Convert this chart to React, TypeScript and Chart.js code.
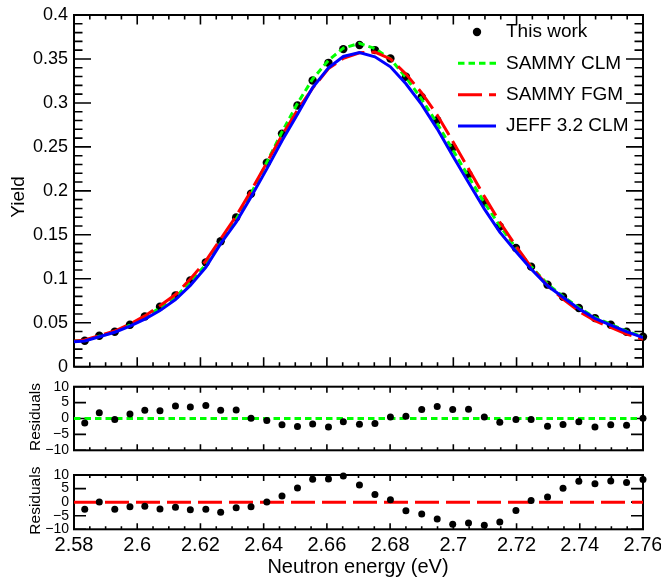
import React, { useEffect, useRef } from "react";
import { Chart, registerables } from "chart.js";

Chart.register(...registerables);

// ---------- data ----------
const energy = [
  2.5834, 2.588, 2.5929, 2.5977, 2.6024, 2.6072, 2.6121, 2.6168, 2.6217, 2.6264,
  2.6313, 2.636, 2.641, 2.6458, 2.6507, 2.6555, 2.6605, 2.6652, 2.6703, 2.6752,
  2.6801, 2.685, 2.69, 2.6949, 2.6998, 2.7048, 2.7098, 2.7147, 2.7198, 2.7246,
  2.7298, 2.7347, 2.7397, 2.7448, 2.7498, 2.7548, 2.76,
];
const yieldData = [
  0.0295, 0.0352, 0.0397, 0.0477, 0.0572, 0.0682, 0.0811, 0.0982, 0.1187, 0.1427,
  0.1697, 0.1967, 0.2321, 0.2651, 0.297, 0.3255, 0.3456, 0.3612, 0.3658, 0.3601,
  0.3506, 0.3297, 0.3069, 0.2803, 0.2492, 0.2187, 0.1871, 0.1594, 0.1351, 0.1138,
  0.0933, 0.0796, 0.0667, 0.0553, 0.0477, 0.0397, 0.034,
];
const curveEnergy = [
  2.58, 2.5834, 2.588, 2.5929, 2.5977, 2.6024, 2.6072, 2.6121, 2.6168, 2.6217, 2.6264,
  2.6313, 2.636, 2.641, 2.6458, 2.6507, 2.6555, 2.6605, 2.6652, 2.6703, 2.6752,
  2.6801, 2.685, 2.69, 2.6949, 2.6998, 2.7048, 2.7098, 2.7147, 2.7198, 2.7246,
  2.7298, 2.7347, 2.7397, 2.7448, 2.7498, 2.7548, 2.76,
];
const sammyClm = [
  0.0287, 0.0299, 0.0346, 0.0398, 0.0472, 0.0561, 0.0671, 0.0791, 0.0962, 0.1162, 0.1409,
  0.1677, 0.1966, 0.2326, 0.267, 0.2995, 0.3272, 0.3485, 0.3623, 0.3678, 0.3618,
  0.3501, 0.329, 0.3041, 0.2767, 0.2467, 0.2163, 0.1867, 0.1603, 0.1353, 0.114,
  0.094, 0.08, 0.0672, 0.056, 0.0483, 0.0405, 0.034,
];
const sammyFgm = [
  0.029, 0.0303, 0.0352, 0.0406, 0.0484, 0.0578, 0.0694, 0.0821, 0.0998, 0.1203, 0.1452,
  0.1713, 0.2, 0.232, 0.263, 0.2919, 0.3169, 0.339, 0.3508, 0.357, 0.3578,
  0.35, 0.333, 0.3113, 0.2862, 0.2565, 0.2252, 0.1937, 0.1646, 0.1372, 0.1134,
  0.0923, 0.077, 0.0631, 0.0524, 0.0446, 0.0371, 0.0312,
];
const jeff32Clm = [
  0.0284, 0.0292, 0.034, 0.0392, 0.0462, 0.0542, 0.0638, 0.0764, 0.0925, 0.113, 0.14,
  0.1645, 0.193, 0.225, 0.257, 0.287, 0.3175, 0.34, 0.3528, 0.3572, 0.3525,
  0.3411, 0.3218, 0.298, 0.2705, 0.24, 0.2095, 0.1795, 0.153, 0.131, 0.111,
  0.092, 0.079, 0.066, 0.055, 0.0472, 0.0398, 0.0332,
];
const residualsClm = [
  -1.4, 1.8, -0.3, 1.4, 2.6, 2.4, 3.9, 3.6, 4.1, 2.6,
  2.7, 0.1, -0.6, -2.0, -2.5, -1.7, -2.7, -1.05, -1.8, -1.6,
  0.5, 0.7, 2.8, 3.8, 2.8, 2.9, 0.5, -1.2, -0.3, -0.3,
  -2.4, -1.9, -1.0, -2.7, -2.0, -2.1, 0.1,
];
const residualsFgm = [
  -2.6, 0.1, -2.6, -1.7, -1.5, -2.5, -1.9, -2.8, -2.6, -3.7,
  -2.1, -1.7, 0.1, 2.3, 5.2, 8.4, 8.5, 9.6, 6.3, 2.8,
  0.9, -3.2, -4.4, -6.2, -8.1, -7.7, -8.5, -7.3, -3.1, 0.6,
  1.9, 5.1, 7.7, 6.8, 7.8, 7.2, 8.3,
];
const xRange = [2.58, 2.76];
const xTickValues = [2.58, 2.6, 2.62, 2.64, 2.66, 2.68, 2.7, 2.72, 2.74, 2.76];
const xTickLabels = ["2.58", "2.6", "2.62", "2.64", "2.66", "2.68", "2.7", "2.72", "2.74", "2.76"];
const yieldTickValues = [0, 0.05, 0.1, 0.15, 0.2, 0.25, 0.3, 0.35, 0.4];
const yieldTickLabels = ["0", "0.05", "0.1", "0.15", "0.2", "0.25", "0.3", "0.35", "0.4"];
const residualTickValues = [-10, -5, 0, 5, 10];
const residualTickLabels = ["\u221210", "\u22125", "0", "5", "10"];
const seriesNames = ["This work", "SAMMY CLM", "SAMMY FGM", "JEFF 3.2 CLM"];
const xTitle = "Neutron energy (eV)";
const yieldTitle = "Yield";
const residualTitle = "Residuals";

// ---------- style ----------
const FONT = '"Liberation Sans", Arial, Helvetica, sans-serif';
const W = 661;
const H = 580;
const LEFT = 74;
const RIGHT_PAD = 18;
const GREEN = "#00ff00";
const RED = "#ff0000";
const BLUE = "#0000ff";
const GREEN_DASH = [6.5, 4];
const RED_DASH = [24, 7];

type TextItem = { t: string; x: number; y: number; size: number; rot?: boolean };
type Decor = {
  xMinor: number; xPer: number; xMajorLen: number; xMinorLen: number;
  yMin: number; yMax: number; yMinor: number; yPer: number; yMajorLen: number; yMinorLen: number;
  texts: TextItem[];
  legend?: boolean;
  xLabels?: boolean;
};

function decorPlugin(d: Decor) {
  return {
    id: "decor",
    beforeDatasetsDraw(chart: any) {
      const { ctx, chartArea: a } = chart;
      const xs = chart.scales.x;
      const ys = chart.scales.y;
      ctx.save();
      ctx.strokeStyle = "#000";
      ctx.lineWidth = 1.6;
      ctx.beginPath();
      const nx = Math.round((xRange[1] - xRange[0]) / d.xMinor);
      for (let i = 0; i <= nx; i++) {
        const px = xs.getPixelForValue(xRange[0] + i * d.xMinor);
        const len = i % d.xPer === 0 ? d.xMajorLen : d.xMinorLen;
        ctx.moveTo(px, a.bottom);
        ctx.lineTo(px, a.bottom - len);
        ctx.moveTo(px, a.top);
        ctx.lineTo(px, a.top + len);
      }
      const ny = Math.round((d.yMax - d.yMin) / d.yMinor);
      for (let i = 0; i <= ny; i++) {
        const py = ys.getPixelForValue(d.yMin + i * d.yMinor);
        const len = i % d.yPer === 0 ? d.yMajorLen : d.yMinorLen;
        ctx.moveTo(a.left, py);
        ctx.lineTo(a.left + len, py);
        ctx.moveTo(a.right, py);
        ctx.lineTo(a.right - len, py);
      }
      ctx.stroke();
      ctx.lineWidth = 2;
      ctx.strokeRect(a.left, a.top, a.right - a.left, a.bottom - a.top);
      ctx.restore();
    },
    afterDraw(chart: any) {
      const ctx = chart.ctx;
      const a = chart.chartArea;
      ctx.save();
      ctx.fillStyle = "#000";
      ctx.textBaseline = "middle";
      ctx.textAlign = "center";
      if (d.xLabels) {
        const xs = chart.scales.x;
        ctx.font = `20px ${FONT}`;
        xTickValues.forEach((v, i) => {
          ctx.fillText(xTickLabels[i], xs.getPixelForValue(v), a.bottom + 16.5);
        });
      }
      for (const it of d.texts) {
        ctx.font = `${it.size}px ${FONT}`;
        if (it.rot) {
          ctx.save();
          ctx.translate(it.x, it.y);
          ctx.rotate(-Math.PI / 2);
          ctx.fillText(it.t, 0, 0);
          ctx.restore();
        } else {
          ctx.fillText(it.t, it.x, it.y);
        }
      }
      if (d.legend) {
        const rows = [32, 63.3, 94.7, 126];
        const lx0 = 458;
        const lx1 = 496;
        ctx.textAlign = "left";
        ctx.font = `19px ${FONT}`;
        ctx.beginPath();
        ctx.arc(477, rows[0], 4.2, 0, Math.PI * 2);
        ctx.fill();
        const styles = [
          { c: GREEN, dash: GREEN_DASH },
          { c: RED, dash: RED_DASH },
          { c: BLUE, dash: [] as number[] },
        ];
        styles.forEach((s, i) => {
          ctx.save();
          ctx.strokeStyle = s.c;
          ctx.lineWidth = 3;
          ctx.setLineDash(s.dash);
          ctx.beginPath();
          ctx.moveTo(lx0, rows[i + 1]);
          ctx.lineTo(lx1, rows[i + 1]);
          ctx.stroke();
          ctx.restore();
        });
        seriesNames.forEach((n, i) => ctx.fillText(n, 506, rows[i]));
      }
      ctx.restore();
    },
  };
}

function pts(xs: number[], ys: number[]) {
  return xs.map((x, i) => ({ x, y: ys[i] }));
}

function scalesFor(
  yMin: number, yMax: number, yVals: number[], yLabels: string[], yFont: number, yPad: number
) {
  return {
    x: {
      type: "linear",
      min: xRange[0],
      max: xRange[1],
      grid: { display: false, drawTicks: false },
      border: { display: false },
      ticks: { display: false },
      afterFit: (s: any) => {
        s.height = 0;
        s.paddingLeft = 0;
        s.paddingRight = 0;
      },
    },
    y: {
      type: "linear",
      min: yMin,
      max: yMax,
      grid: { display: false, drawTicks: false },
      border: { display: false },
      ticks: {
        autoSkip: false,
        padding: yPad,
        color: "#000",
        font: { family: FONT, size: yFont },
        callback: (_v: any, i: number) => yLabels[i],
      },
      afterBuildTicks: (s: any) => {
        s.ticks = yVals.map((v) => ({ value: v }));
      },
      afterFit: (s: any) => {
        s.width = LEFT;
        s.paddingTop = 0;
        s.paddingBottom = 0;
      },
    },
  };
}

function mainConfig(): any {
  return {
    type: "scatter",
    data: {
      datasets: [
        {
          label: seriesNames[3],
          data: pts(curveEnergy, jeff32Clm),
          showLine: true, borderColor: BLUE, borderWidth: 3, pointRadius: 0, order: 1,
        },
        {
          label: seriesNames[2],
          data: pts(curveEnergy, sammyFgm),
          showLine: true, borderColor: RED, borderWidth: 3, borderDash: RED_DASH, pointRadius: 0, order: 2,
        },
        {
          label: seriesNames[1],
          data: pts(curveEnergy, sammyClm),
          showLine: true, borderColor: GREEN, borderWidth: 3, borderDash: GREEN_DASH, pointRadius: 0, order: 3,
        },
        {
          label: seriesNames[0],
          data: pts(energy, yieldData),
          pointRadius: 4.2, pointBackgroundColor: "#000", pointBorderWidth: 0, borderColor: "#000",
          clip: false, order: 4,
        },
      ],
    },
    options: {
      responsive: false,
      animation: false,
      events: [],
      layout: { padding: { left: 0, right: RIGHT_PAD, top: 15, bottom: H - 366.7 } },
      plugins: { legend: { display: false }, tooltip: { enabled: false } },
      scales: scalesFor(0, 0.4, yieldTickValues, yieldTickLabels, 18, 6),
    },
    plugins: [
      decorPlugin({
        xMinor: 0.005, xPer: 4, xMajorLen: 9.5, xMinorLen: 4.5,
        yMin: 0, yMax: 0.4, yMinor: 0.01, yPer: 5, yMajorLen: 17, yMinorLen: 8.5,
        texts: [{ t: yieldTitle, x: 18.5, y: 197, size: 19, rot: true }],
        legend: true,
      }),
    ],
  };
}

function residualConfig(
  res: number[], color: string, dash: number[], top: number, bottom: number, bottomPanel: boolean
): any {
  const texts: TextItem[] = [
    { t: residualTitle, x: 36, y: (top + bottom) / 2 - 1.5, size: 15.5, rot: true },
  ];
  if (bottomPanel) texts.push({ t: xTitle, x: 358, y: 567, size: 20 });
  return {
    type: "scatter",
    data: {
      datasets: [
        {
          label: seriesNames[0],
          data: pts(energy, res),
          pointRadius: 3.5, pointBackgroundColor: "#000", pointBorderWidth: 0, borderColor: "#000",
          clip: false, order: 1,
        },
        {
          label: "zero",
          data: pts(xRange, [0, 0]),
          showLine: true, borderColor: color, borderWidth: 3, borderDash: dash, pointRadius: 0, order: 2,
        },
      ],
    },
    options: {
      responsive: false,
      animation: false,
      events: [],
      layout: { padding: { left: 0, right: RIGHT_PAD, top, bottom: H - bottom } },
      plugins: { legend: { display: false }, tooltip: { enabled: false } },
      scales: scalesFor(-10, 10, residualTickValues, residualTickLabels, 14, 5),
    },
    plugins: [
      decorPlugin({
        xMinor: 0.005, xPer: 4, xMajorLen: 6, xMinorLen: 3,
        yMin: -10, yMax: 10, yMinor: 5, yPer: 1, yMajorLen: 12, yMinorLen: 12,
        texts,
        xLabels: bottomPanel,
      }),
    ],
  };
}

export default function App() {
  const c1 = useRef<HTMLCanvasElement>(null);
  const c2 = useRef<HTMLCanvasElement>(null);
  const c3 = useRef<HTMLCanvasElement>(null);

  useEffect(() => {
    Chart.defaults.color = "#000";
    const charts = [
      new Chart(c1.current as HTMLCanvasElement, mainConfig()),
      new Chart(c2.current as HTMLCanvasElement, residualConfig(residualsClm, GREEN, GREEN_DASH, 386.7, 450.3, false)),
      new Chart(c3.current as HTMLCanvasElement, residualConfig(residualsFgm, RED, RED_DASH, 475, 529.3, true)),
    ];
    return () => charts.forEach((c) => c.destroy());
  }, []);

  const cs: React.CSSProperties = { position: "absolute", left: 0, top: 0, width: W, height: H };
  return (
    <div style={{ position: "absolute", left: 0, top: 0, width: W, height: H, background: "#fff" }}>
      <canvas ref={c1} width={W} height={H} style={cs} />
      <canvas ref={c2} width={W} height={H} style={cs} />
      <canvas ref={c3} width={W} height={H} style={cs} />
    </div>
  );
}
